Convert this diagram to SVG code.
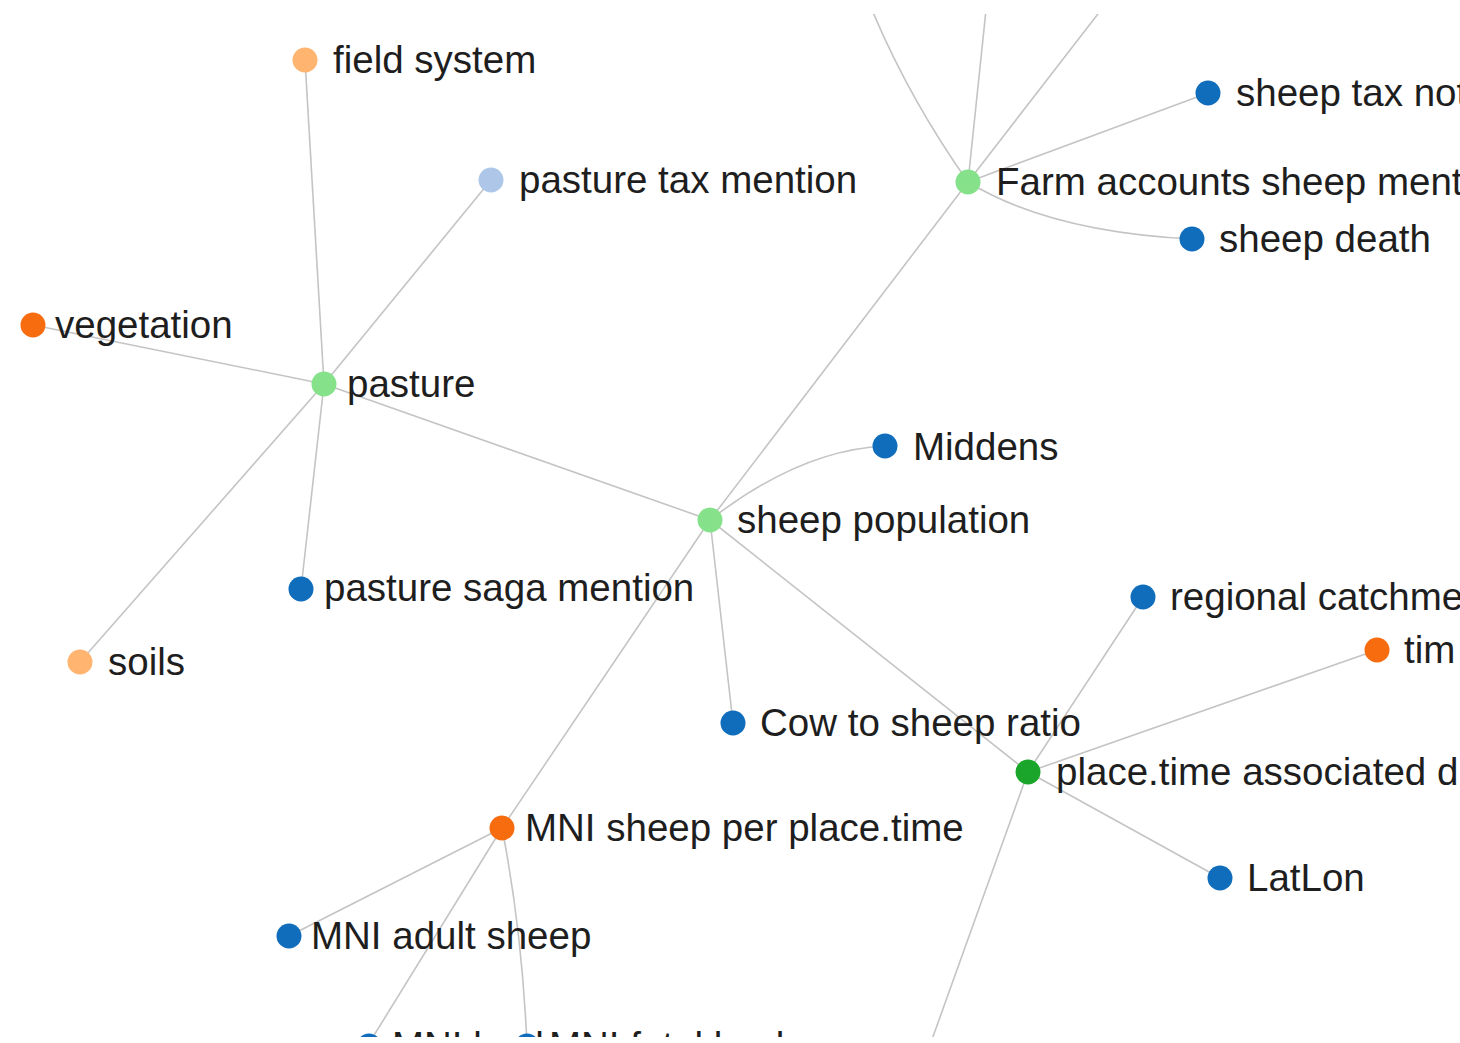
<svg xmlns="http://www.w3.org/2000/svg" width="1460" height="1043" viewBox="0 0 1460 1043">
<defs>
<style>
.link{fill:none;stroke:#c4c4c4;stroke-width:1.6}
.node text{font-family:"Liberation Sans",Arial,Helvetica,sans-serif;font-size:38.5px;fill:#1e1e1e}
.lo{fill:#ffb470}.lb{fill:#aec7e8}.or{fill:#f86c10}.lg{fill:#86e28a}.dg{fill:#1aa62a}.bl{fill:#0f6dbb}
</style>
<clipPath id="view"><rect x="0" y="14" width="1460" height="1023"/></clipPath>
</defs>
<rect width="1460" height="1043" fill="#ffffff"/>
<g clip-path="url(#view)">
<g id="links">
<path class="link" d="M305,60 L324,384"/>
<path class="link" d="M491,180 L324,384"/>
<path class="link" d="M33,325 L324,384"/>
<path class="link" d="M80,662 L324,384"/>
<path class="link" d="M301,589 L324,384"/>
<path class="link" d="M324,384 L710,520"/>
<path class="link" d="M710,520 L968,182"/>
<path class="link" d="M710,520 Q800,450 885,446"/>
<path class="link" d="M710,520 L733,723"/>
<path class="link" d="M710,520 L1028,772"/>
<path class="link" d="M710,520 L502,828"/>
<path class="link" d="M968,182 L1208,93"/>
<path class="link" d="M968,182 Q1050,232 1192,239"/>
<path class="link" d="M968,182 Q910,100 872,10"/>
<path class="link" d="M968,182 L986,10"/>
<path class="link" d="M968,182 L1101,10"/>
<path class="link" d="M1028,772 L1143,597"/>
<path class="link" d="M1028,772 L1377,650"/>
<path class="link" d="M1028,772 L1220,878"/>
<path class="link" d="M1028,772 L930,1045"/>
<path class="link" d="M502,828 L289,936"/>
<path class="link" d="M502,828 L368,1045"/>
<path class="link" d="M502,828 Q522,930 527,1045"/>
</g>
<g id="n-field-system" class="node"><circle class="lo" cx="305" cy="60" r="12.5"/><text x="333" y="73">field system</text></g>
<g id="n-pasture-tax-mention" class="node"><circle class="lb" cx="491" cy="180" r="12.5"/><text x="519" y="193">pasture tax mention</text></g>
<g id="n-vegetation" class="node"><circle class="or" cx="33" cy="325" r="12.5"/><text x="55" y="338">vegetation</text></g>
<g id="n-pasture" class="node"><circle class="lg" cx="324" cy="384" r="12.5"/><text x="347" y="397">pasture</text></g>
<g id="n-soils" class="node"><circle class="lo" cx="80" cy="662" r="12.5"/><text x="108" y="675">soils</text></g>
<g id="n-pasture-saga-mention" class="node"><circle class="bl" cx="301" cy="589" r="12.5"/><text x="324" y="601">pasture saga mention</text></g>
<g id="n-sheep-population" class="node"><circle class="lg" cx="710" cy="520" r="12.5"/><text x="737" y="533">sheep population</text></g>
<g id="n-middens" class="node"><circle class="bl" cx="885" cy="446" r="12.5"/><text x="913" y="460">Middens</text></g>
<g id="n-cow-to-sheep-ratio" class="node"><circle class="bl" cx="733" cy="723" r="12.5"/><text x="760" y="736">Cow to sheep ratio</text></g>
<g id="n-farm-accounts" class="node"><circle class="lg" cx="968" cy="182" r="12.5"/><text x="996" y="195">Farm accounts sheep ment</text></g>
<g id="n-sheep-tax" class="node"><circle class="bl" cx="1208" cy="93" r="12.5"/><text x="1236" y="106">sheep tax not</text></g>
<g id="n-sheep-death" class="node"><circle class="bl" cx="1192" cy="239" r="12.5"/><text x="1219" y="252">sheep death</text></g>
<g id="n-regional-catchment" class="node"><circle class="bl" cx="1143" cy="597" r="12.5"/><text x="1170" y="610">regional catchme</text></g>
<g id="n-time" class="node"><circle class="or" cx="1377" cy="650" r="12.5"/><text x="1404" y="663">tim</text></g>
<g id="n-place-time" class="node"><circle class="dg" cx="1028" cy="772" r="12.5"/><text x="1056" y="785">place.time associated d</text></g>
<g id="n-latlon" class="node"><circle class="bl" cx="1220" cy="878" r="12.5"/><text x="1247" y="891">LatLon</text></g>
<g id="n-mni-sheep" class="node"><circle class="or" cx="502" cy="828" r="12.5"/><text x="525" y="841">MNI sheep per place.time</text></g>
<g id="n-mni-adult" class="node"><circle class="bl" cx="289" cy="936" r="12.5"/><text x="311" y="949">MNI adult sheep</text></g>
<g id="n-mni-lamb" class="node"><circle class="bl" cx="369" cy="1046" r="12.5"/><text x="392" y="1059">MNI lamb</text></g>
<g id="n-mni-fl" class="node"><circle class="bl" cx="527" cy="1046" r="12.5"/><text x="549" y="1059">MNI fetal lamb</text></g>
</g>
</svg>
